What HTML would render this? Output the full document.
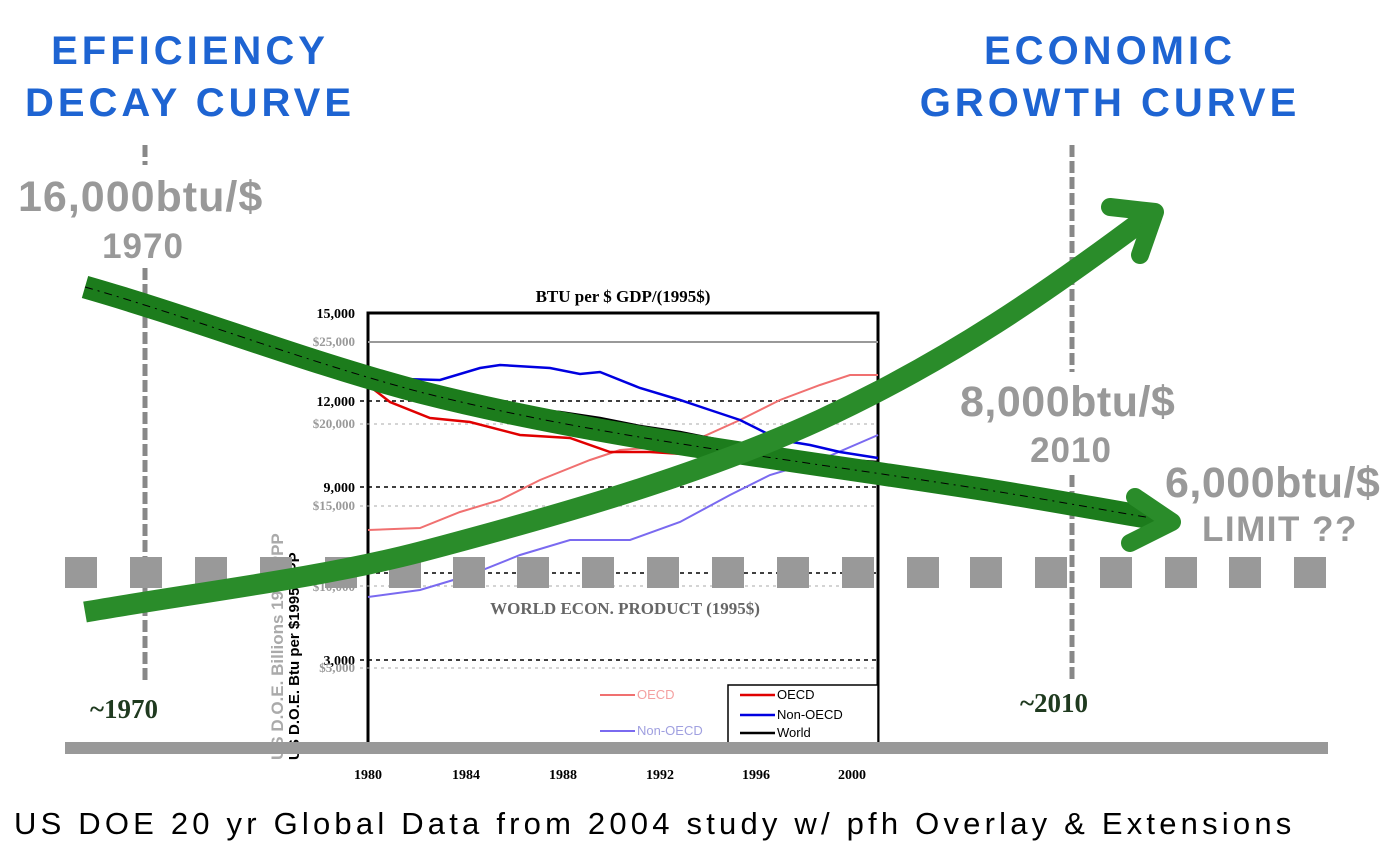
<!DOCTYPE html>
<html><head><meta charset="utf-8"><style>
html,body{margin:0;padding:0;background:#fff;width:1395px;height:864px;overflow:hidden}
svg{display:block}
.b{font-family:"Liberation Sans",sans-serif;font-weight:bold}
.s{font-family:"Liberation Serif",serif;font-weight:bold}
</style></head><body>
<svg width="1395" height="864" viewBox="0 0 1395 864">
<!-- titles -->
<text class="b" x="190" y="64" font-size="40" fill="#1e64d2" text-anchor="middle" letter-spacing="4">EFFICIENCY</text>
<text class="b" x="190" y="116" font-size="40" fill="#1e64d2" text-anchor="middle" letter-spacing="4">DECAY CURVE</text>
<text class="b" x="1110" y="64" font-size="40" fill="#1e64d2" text-anchor="middle" letter-spacing="4">ECONOMIC</text>
<text class="b" x="1110" y="116" font-size="40" fill="#1e64d2" text-anchor="middle" letter-spacing="4">GROWTH CURVE</text>
<!-- vertical dashed -->
<line x1="145" y1="145" x2="145" y2="165" stroke="#888" stroke-width="5" stroke-dasharray="12,4"/>
<line x1="145" y1="268" x2="145" y2="680" stroke="#888" stroke-width="5" stroke-dasharray="12,4"/>
<line x1="1072" y1="145" x2="1072" y2="372" stroke="#888" stroke-width="5" stroke-dasharray="12,4"/>
<line x1="1072" y1="475" x2="1072" y2="680" stroke="#888" stroke-width="5" stroke-dasharray="12,4"/>
<!-- chart -->
<text class="s" x="623" y="302" font-size="17" text-anchor="middle">BTU per $ GDP/(1995$)</text>
<rect x="368" y="313" width="510" height="436" fill="#fff" stroke="#000" stroke-width="3"/>
<line x1="368" y1="342" x2="878" y2="342" stroke="#999" stroke-width="2"/>
<g stroke="#000" stroke-width="1.5" stroke-dasharray="4,4">
<line x1="360" y1="401" x2="878" y2="401"/><line x1="360" y1="487" x2="878" y2="487"/>
<line x1="360" y1="573" x2="878" y2="573"/><line x1="360" y1="660" x2="878" y2="660"/></g>
<g stroke="#aaa" stroke-width="1" stroke-dasharray="3,4">
<line x1="360" y1="424" x2="878" y2="424"/><line x1="360" y1="506" x2="878" y2="506"/>
<line x1="360" y1="586" x2="878" y2="586"/><line x1="360" y1="668" x2="878" y2="668"/></g>
<g class="s" font-size="14" text-anchor="end">
<text x="355" y="318">15,000</text><text x="355" y="406">12,000</text><text x="355" y="492">9,000</text><text x="355" y="665">3,000</text><text x="355" y="752">$0</text></g>
<g class="s" font-size="13" fill="#999" text-anchor="end">
<text x="355" y="346">$25,000</text><text x="355" y="428">$20,000</text><text x="355" y="510">$15,000</text><text x="355" y="591">$10,000</text><text x="355" y="672">$5,000</text></g>
<text class="b" font-size="17" fill="#aaa" transform="translate(283,760) rotate(-90)">US D.O.E.    Billions 1995 PPP</text>
<text class="b" font-size="15" fill="#000" transform="translate(299,760) rotate(-90)">US D.O.E.       Btu per $1995-PPP</text>
<g class="s" font-size="14" text-anchor="middle">
<text x="368" y="779">1980</text><text x="466" y="779">1984</text><text x="563" y="779">1988</text><text x="660" y="779">1992</text><text x="756" y="779">1996</text><text x="852" y="779">2000</text></g>
<text class="s" x="625" y="614" font-size="17" fill="#666" text-anchor="middle">WORLD ECON. PRODUCT (1995$)</text>
<!-- data lines -->
<polyline fill="none" stroke="#f07070" stroke-width="2" points="368,530 420,528 460,512 500,500 540,480 590,460 620,450 660,447 700,438 740,420 780,400 820,385 850,375 878,375"/>
<polyline fill="none" stroke="#7a6af0" stroke-width="2" points="368,597 420,590 470,575 520,555 570,540 630,540 680,522 730,495 770,475 820,460 878,435"/>
<polyline fill="none" stroke="#e00000" stroke-width="2.5" points="368,385 390,402 430,418 470,422 520,435 570,438 610,452 650,452 700,455 740,462"/>
<polyline fill="none" stroke="#0000e0" stroke-width="2.5" points="368,378 440,380 480,368 500,365 550,368 580,374 600,372 640,388 680,400 710,410 740,420 780,440 810,445 840,452 878,458"/>
<polyline fill="none" stroke="#000" stroke-width="2.5" points="368,385 400,395 430,403 470,405 510,408 560,412 600,418 640,426 680,432 730,442 780,450 820,458 878,462"/>
<!-- legend -->
<rect x="728" y="685" width="150" height="64" fill="#fff" stroke="#000" stroke-width="1.5"/>
<g font-family="Liberation Sans,sans-serif" font-size="13">
<line x1="600" y1="695" x2="635" y2="695" stroke="#f07070" stroke-width="2"/><text x="637" y="699" fill="#f4a0a0">OECD</text>
<line x1="600" y1="731" x2="635" y2="731" stroke="#7a6af0" stroke-width="2"/><text x="637" y="735" fill="#a0a0e0">Non-OECD</text>
<line x1="740" y1="695" x2="775" y2="695" stroke="#e00000" stroke-width="2.5"/><text x="777" y="699">OECD</text>
<line x1="740" y1="715" x2="775" y2="715" stroke="#0000e0" stroke-width="2.5"/><text x="777" y="719">Non-OECD</text>
<line x1="740" y1="733" x2="775" y2="733" stroke="#000" stroke-width="2.5"/><text x="777" y="737">World</text></g>
<!-- bottom band -->
<rect x="65" y="742" width="1263" height="12" fill="#999"/>
<!-- gray squares -->
<g fill="#999">
<rect x="65" y="557" width="32" height="31"/><rect x="130" y="557" width="32" height="31"/><rect x="195" y="557" width="32" height="31"/><rect x="260" y="557" width="32" height="31"/><rect x="325" y="557" width="32" height="31"/><rect x="389" y="557" width="32" height="31"/><rect x="453" y="557" width="32" height="31"/><rect x="517" y="557" width="32" height="31"/><rect x="582" y="557" width="32" height="31"/><rect x="647" y="557" width="32" height="31"/><rect x="712" y="557" width="32" height="31"/><rect x="777" y="557" width="32" height="31"/><rect x="842" y="557" width="32" height="31"/><rect x="907" y="557" width="32" height="31"/><rect x="970" y="557" width="32" height="31"/><rect x="1035" y="557" width="32" height="31"/><rect x="1100" y="557" width="32" height="31"/><rect x="1165" y="557" width="32" height="31"/><rect x="1229" y="557" width="32" height="31"/><rect x="1294" y="557" width="32" height="31"/></g>
<!-- decay curve -->
<path d="M85,287 C200,320 300,360 420,392 C600,438 800,460 1000,492 C1080,505 1130,515 1165,520" fill="none" stroke="#1c7c1c" stroke-width="23"/>
<path d="M85,287 C200,320 300,360 420,392 C600,438 800,460 1000,492 C1080,505 1130,515 1165,520" fill="none" stroke="#000" stroke-width="1" stroke-dasharray="8,5,2,5"/>
<polyline points="1135,497 1172,522 1130,543" fill="none" stroke="#2a8c2a" stroke-width="18" stroke-linecap="round" stroke-linejoin="round"/>
<!-- growth curve -->
<path d="M85,612 C200,592 320,578 420,552 C560,515 700,475 820,420 C950,360 1050,290 1150,215" fill="none" stroke="#2a8c2a" stroke-width="21"/>
<polyline points="1110,207 1155,212 1140,255" fill="none" stroke="#2a8c2a" stroke-width="18" stroke-linecap="round" stroke-linejoin="round"/>
<!-- labels -->
<g class="b" fill="#999">
<text x="18" y="211" font-size="43" letter-spacing="1">16,000btu/$</text>
<text x="143" y="258" font-size="35" text-anchor="middle" letter-spacing="1">1970</text>
<text x="960" y="416" font-size="43" letter-spacing="0.5">8,000btu/$</text>
<text x="1071" y="462" font-size="35" text-anchor="middle" letter-spacing="1">2010</text>
<text x="1165" y="497" font-size="43" letter-spacing="0.5">6,000btu/$</text>
<text x="1202" y="541" font-size="35" letter-spacing="1.5">LIMIT ??</text></g>
<text class="s" x="90" y="718" font-size="27" fill="#1f3a1f">~1970</text>
<text class="s" x="1020" y="712" font-size="27" fill="#1f3a1f">~2010</text>
<text x="14" y="834" font-family="Liberation Sans,sans-serif" font-size="31" letter-spacing="4.2">US DOE 20 yr Global Data from 2004 study w/ pfh Overlay &amp; Extensions</text>
</svg>
</body></html>
